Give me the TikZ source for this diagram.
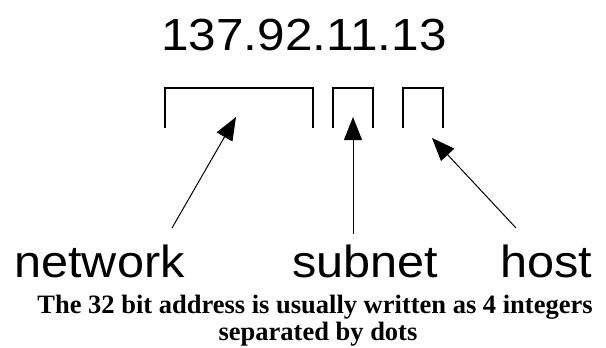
\documentclass[tikz,border=0pt]{standalone}
\usepackage{fontspec}
\setmainfont{Liberation Serif}
\newfontfamily\labfont[FakeStretch=1.08]{Liberation Sans}
\newfontfamily\addrfont[FakeStretch=1.1]{Liberation Sans}
\usetikzlibrary{arrows.meta}
\tikzset{
  bigtext/.style={inner sep=0pt, anchor=base, font=\labfont\fontsize{45}{54}\selectfont},
  addrtext/.style={inner sep=0pt, anchor=base, font=\addrfont\fontsize{45}{54}\selectfont},
  captext/.style={inner sep=0pt, anchor=base, font=\bfseries\fontsize{26.5}{29}\selectfont},
  bracket/.style={line width=1.3pt, black},
  pointer/.style={line width=1pt, black, -{Triangle[length=23pt,width=18pt]}}
}
\begin{document}
\begin{tikzpicture}[x=1pt,y=-1pt]
\useasboundingbox (0,0) rectangle (606,348);
% address
\node[addrtext] (addr) at (304,50) {137.92.11.13};
% brackets
\draw[bracket] (165,128) -- (165,88) -- (313,88) -- (313,128);
\draw[bracket] (333,128) -- (333,88) -- (373,88) -- (373,128);
\draw[bracket] (403,128) -- (403,88) -- (443,88) -- (443,128);
% labels
\node[bigtext] (net) at (99.5,277) {network};
\node[bigtext] (sub) at (365.5,277) {subnet};
\node[bigtext] (host) at (546,277) {host};
% arrow ends
\coordinate (nettail) at (172,228);
\coordinate (nettip) at (236,117);
\coordinate (subtail) at (353,234);
\coordinate (subtip) at (353,117);
\coordinate (hosttail) at (516,228);
\coordinate (hosttip) at (432,138);
\draw[pointer] (nettail) -- (nettip);
\draw[pointer] (subtail) -- (subtip);
\draw[pointer] (hosttail) -- (hosttip);
% caption
\node[captext] (cap1) at (315,313) {The 32 bit address is usually written as 4 integers};
\node[captext] (cap2) at (318,340) {separated by dots};
\end{tikzpicture}
\end{document}
